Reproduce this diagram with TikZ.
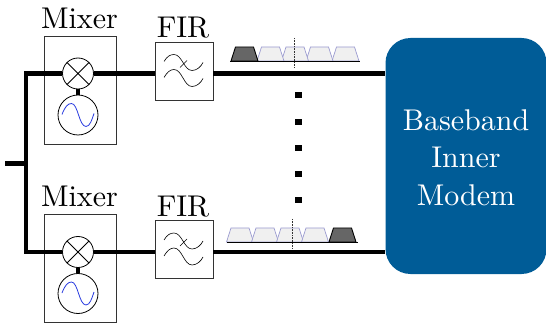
\documentclass[tikz,border=0pt]{standalone}
\usepackage{fontspec}
\setmainfont{lmroman10-regular}[Extension=.otf]
\usetikzlibrary{calc}
\definecolor{modem}{HTML}{005C97}
\definecolor{wave}{HTML}{2A3CE0}
\definecolor{edgeb}{HTML}{9A9AD0}
\tikzset{
  bus/.style={line width=4.2pt,black},
  frame/.style={draw=black!80,line width=0.7pt,minimum width=#1,inner sep=0pt},
  mixc/.style={circle,draw=black,line width=0.8pt,minimum size=31pt,inner sep=0pt,fill=white},
  osc/.style={circle,draw=black,line width=0.8pt,minimum size=40pt,inner sep=0pt,fill=white},
  lbl/.style={font=\fontsize{30}{30}\selectfont,inner sep=0pt,anchor=base},
  ftr/.style={draw=black,line width=0.6pt},
  lighttrap/.style={draw=edgeb,line width=0.7pt,fill=black!6},
  darktrap/.style={draw=black,line width=0.9pt,fill=black!60},
  sep/.style={densely dotted,line width=0.6pt,black!80},
  dotm/.style={fill=black,inner sep=0pt,minimum size=6.5pt,rectangle},
}
\newcommand{\trap}[4]{% style, centre x, base y, top y
  \path[#1] (#2-13.5,#3) -- (#2-9,#4) -- (#2+9,#4) -- (#2+13.5,#3) -- cycle;}
\newcommand{\mixerblock}[2]{% name, y of bus
  \node[frame=71.5pt,minimum height=108pt] (#1box) at (80.25,#2+16.5) {};
  \node[lbl] (#1lab) at (79.5,#2-45) {Mixer};
  \node[mixc] (#1mix) at (78,#2) {};
  \node[osc] (#1osc) at (78,#2+41.5) {};
  \draw[line width=4pt] (#1mix) -- (#1osc);
  \draw[line width=0.8pt] (#1mix.north west) -- (#1mix.south east) (#1mix.north east) -- (#1mix.south west);
  \draw[wave,line width=0.8pt] (62,#2+41) .. controls (65,#2+33) and (68,#2+30) .. (71.5,#2+30)
     .. controls (78,#2+30) and (79,#2+53) .. (86,#2+53)
     .. controls (90,#2+53) and (92,#2+46) .. (94,#2+40);
  \node[frame=58pt,minimum height=58pt,fill=white] (#1fir) at (184,#2-2.5) {};
  \node[lbl] (#1firlab) at (183,#2-36) {FIR};
  \draw[ftr] (164,#2-12) .. controls (167,#2-17) and (170,#2-19) .. (174,#2-19)
     .. controls (182,#2-19) and (184,#2-3) .. (192,#2-3)
     .. controls (197,#2-3) and (201,#2-7) .. (203,#2-11);
  \draw[ftr] (164,#2+4) .. controls (167,#2-1) and (170,#2-4) .. (174,#2-4)
     .. controls (182,#2-4) and (184,#2+13) .. (192,#2+13)
     .. controls (197,#2+13) and (201,#2+9) .. (203,#2+5);
  \draw[ftr] (180,#2-6) -- (187,#2-13);
}
\begin{document}
\begin{tikzpicture}[x=1pt,y=-1pt]
\useasboundingbox (0,0) rectangle (546,323);
% modem
\node[fill=modem,rounded corners=25pt,minimum width=161pt,minimum height=236pt,inner sep=0pt] (modem) at (466,156) {};
\node[white,font=\fontsize{30}{37.5}\selectfont,align=center,inner sep=0pt] (modemtxt) at (466,157.5) {Baseband\\Inner\\Modem};
% mixers and filters
\mixerblock{a}{73.5}
\mixerblock{b}{252}
% bus
\coordinate (j0) at (5,163.5);
\coordinate (j1) at (26,163.5);
\coordinate (jt) at (26,73.5);
\coordinate (jb) at (26,252);
\draw[bus] (j0) -- (j1);
\draw[bus,line cap=rect] (jt) -- (jb);
\draw[bus] (jt) -- (amix.west);
\draw[bus] (jb) -- (bmix.west);
\draw[bus] (amix.east) -- (amix.east -| afir.west);
\draw[bus] (bmix.east) -- (bmix.east -| bfir.west);
\draw[bus] (amix.east -| afir.east) -- (amix.east -| modem.west);
\draw[bus] (bmix.east -| bfir.east) -- (bmix.east -| modem.west);
% top spectrum
\foreach \c in {345.5,319.5,295,270.5} {\trap{lighttrap}{\c}{61}{47}}
\trap{darktrap}{244.5}{61}{47}
\coordinate (ta) at (230,61); \coordinate (tb) at (360,61);
\draw[line width=0.7pt,black] (ta) -- (tb);
\coordinate (sa) at (294.5,38); \coordinate (sb) at (294.5,67);
\draw[sep] (sa) -- (sb);
% bottom spectrum
\foreach \c in {240,265,290,315} {\trap{lighttrap}{\c}{242}{228}}
\trap{darktrap}{342.5}{242}{228}
\coordinate (ua) at (227,242); \coordinate (ub) at (358,242);
\draw[line width=0.7pt,black] (ua) -- (ub);
\coordinate (va) at (292.5,219); \coordinate (vb) at (292.5,248);
\draw[sep] (va) -- (vb);
% dots
\foreach \y/\n in {95/1,122/2,148/3,174/4,200/5} {\node[dotm] (d\n) at (298.5,\y) {};}
\end{tikzpicture}
\end{document}
